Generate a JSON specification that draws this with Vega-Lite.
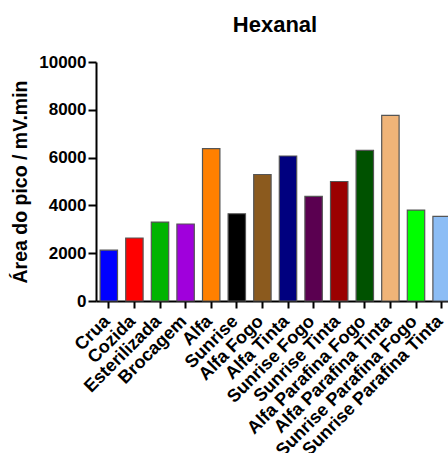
{
  "$schema": "https://vega.github.io/schema/vega-lite/v6.json",
  "autosize": "none",
  "width": 352,
  "height": 239,
  "padding": {"left": 96, "top": 62, "right": 0, "bottom": 152},
  "background": "white",
  "title": {"text": "Hexanal", "font": "Liberation Sans", "fontSize": 22, "fontWeight": "bold", "color": "black", "anchor": "middle", "dx": 3, "offset": 16},
  "config": {"view": {"stroke": null}, "axis": {"grid": false}},
  "data": {"values": [
    {"amostra": "Crua", "area": 2125},
    {"amostra": "Cozida", "area": 2637},
    {"amostra": "Esterilizada", "area": 3304},
    {"amostra": "Brocagem", "area": 3221},
    {"amostra": "Alfa", "area": 6375},
    {"amostra": "Sunrise", "area": 3650},
    {"amostra": "Alfa Fogo", "area": 5292},
    {"amostra": "Alfa Tinta", "area": 6067},
    {"amostra": "Sunrise Fogo", "area": 4375},
    {"amostra": "Sunrise Tinta", "area": 5000},
    {"amostra": "Alfa Parafina Fogo", "area": 6304},
    {"amostra": "Alfa Parafina Tinta", "area": 7763},
    {"amostra": "Sunrise Parafina Fogo", "area": 3804},
    {"amostra": "Sunrise Parafina Tinta", "area": 3542}
  ]},
  "mark": {"type": "bar", "stroke": "#555555", "strokeWidth": 1.2},
  "encoding": {
    "x": {
      "field": "amostra", "type": "nominal", "sort": null,
      "scale": {"range": [0, 358.4], "paddingInner": 0.32, "paddingOuter": 0.16},
      "axis": {"title": null, "labelAngle": -45, "labelAlign": "right", "labelBaseline": "alphabetic", "labelOffset": 2, "labelFont": "Liberation Sans", "labelFontSize": 18, "labelFontWeight": "bold", "labelColor": "black", "domainColor": "black", "domainWidth": 2, "tickColor": "black", "tickWidth": 2, "tickSize": 7, "labelPadding": 14, "labelOverlap": false, "labelBound": false, "labelLimit": 0}
    },
    "y": {
      "field": "area", "type": "quantitative",
      "scale": {"domain": [0, 10000], "nice": false},
      "axis": {"title": "Área do pico / mV.min", "values": [0, 2000, 4000, 6000, 8000, 10000], "format": "d", "labelFont": "Liberation Sans", "labelFontSize": 17, "labelFontWeight": "bold", "labelColor": "black", "titleFont": "Liberation Sans", "titleFontSize": 19.5, "titleFontWeight": "bold", "titleColor": "black", "titlePadding": 8, "domainColor": "black", "domainWidth": 2, "tickColor": "black", "tickWidth": 2, "tickSize": 8, "labelPadding": 2}
    },
    "color": {
      "field": "amostra", "type": "nominal", "legend": null,
      "scale": {
        "domain": ["Crua", "Cozida", "Esterilizada", "Brocagem", "Alfa", "Sunrise", "Alfa Fogo", "Alfa Tinta", "Sunrise Fogo", "Sunrise Tinta", "Alfa Parafina Fogo", "Alfa Parafina Tinta", "Sunrise Parafina Fogo", "Sunrise Parafina Tinta"],
        "range": ["#0000FF", "#FF0000", "#00B400", "#A000DC", "#FF8000", "#000000", "#8B5A1E", "#00007F", "#5A0050", "#9B0000", "#005200", "#F0B478", "#00FF00", "#8CBDF5"]
      }
    }
  }
}
